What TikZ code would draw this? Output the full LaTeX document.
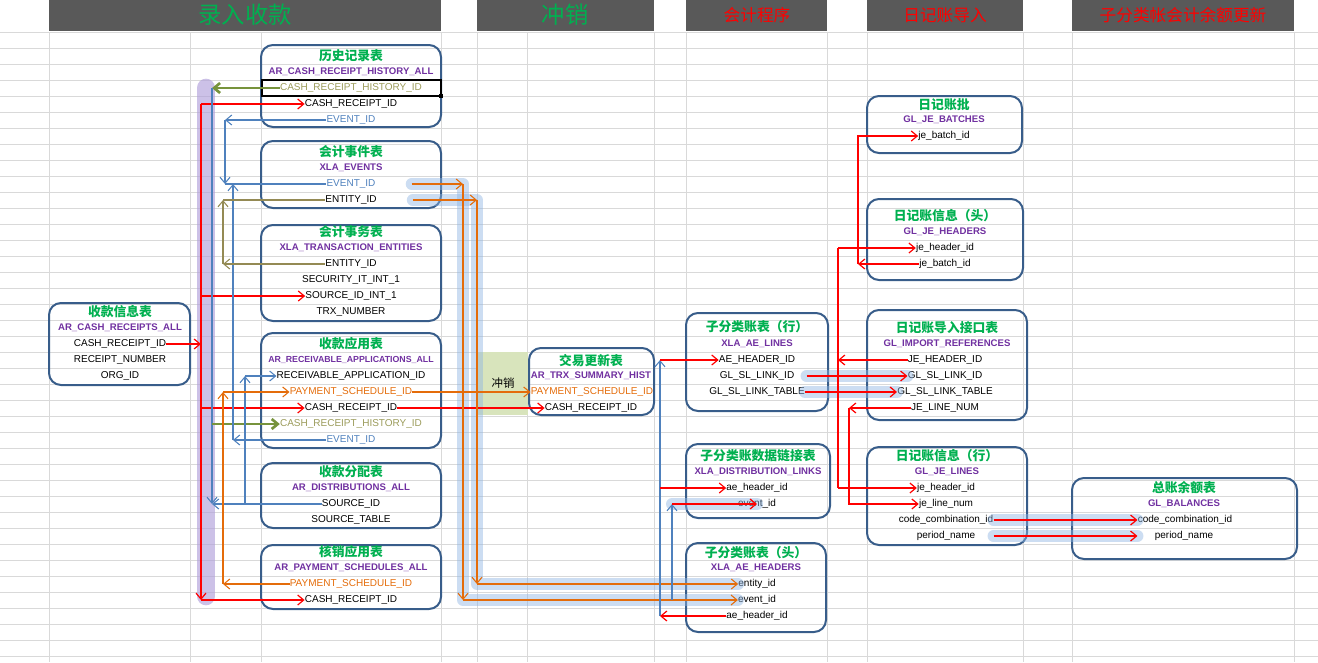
\documentclass[tikz,border=0pt]{standalone}
\usepackage{fontspec}
\setmainfont{Liberation Sans}
\newfontfamily\cjk{Noto Sans CJK SC}
\usetikzlibrary{arrows.meta}
\definecolor{gridc}{RGB}{217,217,217}
\definecolor{bandc}{RGB}{89,89,89}
\definecolor{ttlg}{RGB}{0,176,80}
\definecolor{nmp}{RGB}{112,48,160}
\definecolor{tblc}{RGB}{56,93,138}
\definecolor{olv}{RGB}{119,147,60}
\definecolor{khk}{RGB}{148,138,84}
\definecolor{oltxt}{RGB}{155,155,90}
\definecolor{blu}{RGB}{79,129,189}
\definecolor{org}{RGB}{228,108,10}
\definecolor{glowc}{RGB}{141,180,226}
\definecolor{glowp}{RGB}{177,160,218}
\definecolor{revc}{RGB}{216,228,188}
\tikzset{
  >={Straight Barb[length=4.5pt,width=7.5pt]},
  gridl/.style={gridc, line width=0.75pt},
  band/.style={fill=bandc},
  hgreen/.style={font=\cjk\fontsize{17.5}{18}\selectfont, text=ttlg},
  hred/.style={font=\cjk\fontsize{12.5}{13}\selectfont, text=red},
  tbl/.style={draw=tblc, line width=1.5pt, rounded corners=9pt},
  ttl/.style={font=\cjk\bfseries\fontsize{9.6}{11}\selectfont, text=ttlg, inner sep=0pt},
  tnm/.style={font=\bfseries\fontsize{7.2}{8}\selectfont, text=nmp, inner sep=0pt},
  fld/.style={font=\fontsize{7.5}{8}\selectfont, inner sep=0pt},
  rd/.style={red, line width=0.9pt},
  bl/.style={blu, line width=0.8pt},
  kh/.style={khk, line width=0.8pt},
  og/.style={org, line width=0.8pt},
  ov/.style={olv, line width=2pt},
  glow/.style={glowc, line width=9pt, opacity=0.45, line cap=round, line join=round},
  glowv/.style={glowp, line width=14pt, opacity=0.65, line cap=round},
}
\begin{document}
\begin{tikzpicture}[x=0.75pt,y=-0.75pt]
\useasboundingbox (0,0) rectangle (1318,662);
% sheet grid
\foreach \k in {0,...,39}{
\draw[gridl] (0,32+16*\k) -- (1318,32+16*\k);
}
\foreach \x in {49,190,261,441,477,527,654,686,827,867,1023,1072,1294}{
\draw[gridl] (\x,32) -- (\x,662);
}
% header bands
\fill[band] (49,0) rectangle (441,31);
\fill[band] (477,0) rectangle (654,31);
\fill[band] (686,0) rectangle (827,31);
\fill[band] (867,0) rectangle (1023,31);
\fill[band] (1072,0) rectangle (1294,31);
\node[hgreen] (h-in) at (245,15) {录入收款};
\node[hgreen] (h-rev) at (565,15) {冲销};
\node[hred] (h-acc) at (757,15) {会计程序};
\node[hred] (h-gl) at (945,15) {日记账导入};
\node[hred] (h-bal) at (1183,15) {子分类帐会计余额更新};
% reversal cell
\fill[revc] (478,352) rectangle (528,415);
\node[font=\cjk\fontsize{8.6}{9}\selectfont] (rev) at (503,383) {冲销};
%
% table boxes
\draw[tbl] (261,45) rectangle (441,127);
\draw[tbl] (261,141) rectangle (441,208);
\draw[tbl] (261,225) rectangle (441,321);
\draw[tbl] (49,303) rectangle (190,385);
\draw[tbl] (261,333) rectangle (441,448);
\draw[tbl] (261,463) rectangle (441,528);
\draw[tbl] (261,545) rectangle (441,609);
\draw[tbl] (529,348) rectangle (654,415);
\draw[tbl] (686,313) rectangle (828,411);
\draw[tbl] (686,444) rectangle (830,518);
\draw[tbl] (686,543) rectangle (826,632);
\draw[tbl] (867,96) rectangle (1022,153);
\draw[tbl] (867,199) rectangle (1023,280);
\draw[tbl] (867,310) rectangle (1027,420);
\draw[tbl] (867,447) rectangle (1027,545);
\draw[tbl] (1072,478) rectangle (1297,559);
% selected cell
\draw[black, line width=1.5pt] (262,80) rectangle (441,96);
\fill[black] (439,94) rectangle (443,98);
%
% history table
\node[ttl] (hist-t) at (351,56) {历史记录表};
\node[tnm] (hist-n) at (351,72) {AR\_CASH\_RECEIPT\_HISTORY\_ALL};
\node[fld, text=oltxt] (hist-crh) at (351,88) {CASH\_RECEIPT\_HISTORY\_ID};
\node[fld] (hist-crid) at (351,104) {CASH\_RECEIPT\_ID};
\node[fld, text=blu] (hist-ev) at (351,120) {EVENT\_ID};
% events table
\node[ttl] (evt-t) at (351,152) {会计事件表};
\node[tnm] (evt-n) at (351,168) {XLA\_EVENTS};
\node[fld, text=blu] (evt-ev) at (351,184) {EVENT\_ID};
\node[fld] (evt-ent) at (351,200) {ENTITY\_ID};
% transaction entities
\node[ttl] (xte-t) at (351,232) {会计事务表};
\node[tnm] (xte-n) at (351,248) {XLA\_TRANSACTION\_ENTITIES};
\node[fld] (xte-ent) at (351,264) {ENTITY\_ID};
\node[fld] (xte-sec) at (351,280) {SECURITY\_IT\_INT\_1};
\node[fld] (xte-sid) at (351,296) {SOURCE\_ID\_INT\_1};
\node[fld] (xte-trx) at (351,312) {TRX\_NUMBER};
% cash receipts
\node[ttl] (cr-t) at (120,312) {收款信息表};
\node[tnm] (cr-n) at (120,328) {AR\_CASH\_RECEIPTS\_ALL};
\node[fld] (cr-crid) at (120,344) {CASH\_RECEIPT\_ID};
\node[fld] (cr-rn) at (120,360) {RECEIPT\_NUMBER};
\node[fld] (cr-org) at (120,376) {ORG\_ID};
% receivable applications
\node[ttl] (ra-t) at (351,344) {收款应用表};
\node[tnm, font=\bfseries\fontsize{6.6}{8}\selectfont] (ra-n) at (351,360) {AR\_RECEIVABLE\_APPLICATIONS\_ALL};
\node[fld] (ra-raid) at (351,376) {RECEIVABLE\_APPLICATION\_ID};
\node[fld, text=org] (ra-psid) at (351,392) {PAYMENT\_SCHEDULE\_ID};
\node[fld] (ra-crid) at (351,408) {CASH\_RECEIPT\_ID};
\node[fld, text=oltxt] (ra-crh) at (351,424) {CASH\_RECEIPT\_HISTORY\_ID};
\node[fld, text=blu] (ra-ev) at (351,440) {EVENT\_ID};
% distributions
\node[ttl] (rd-t) at (351,472) {收款分配表};
\node[tnm] (rd-n) at (351,488) {AR\_DISTRIBUTIONS\_ALL};
\node[fld] (rd-sid) at (351,504) {SOURCE\_ID};
\node[fld] (rd-stab) at (351,520) {SOURCE\_TABLE};
% payment schedules
\node[ttl] (ps-t) at (351,552) {核销应用表};
\node[tnm] (ps-n) at (351,568) {AR\_PAYMENT\_SCHEDULES\_ALL};
\node[fld, text=org] (ps-psid) at (351,584) {PAYMENT\_SCHEDULE\_ID};
\node[fld] (ps-crid) at (351,600) {CASH\_RECEIPT\_ID};
% trx summary
\node[ttl] (trx-t) at (591,361) {交易更新表};
\node[tnm] (trx-n) at (591,376) {AR\_TRX\_SUMMARY\_HIST};
\node[fld, text=org] (trx-psid) at (592,392) {PAYMENT\_SCHEDULE\_ID};
\node[fld] (trx-crid) at (591,408) {CASH\_RECEIPT\_ID};
% ae lines
\node[ttl] (ael-t) at (757,327) {子分类账表（行）};
\node[tnm] (ael-n) at (757,344) {XLA\_AE\_LINES};
\node[fld] (ael-aeh) at (757,360) {AE\_HEADER\_ID};
\node[fld] (ael-gid) at (757,376) {GL\_SL\_LINK\_ID};
\node[fld] (ael-gtab) at (757,392) {GL\_SL\_LINK\_TABLE};
% distribution links
\node[ttl] (dl-t) at (758,456) {子分类账数据链接表};
\node[tnm] (dl-n) at (758,472) {XLA\_DISTRIBUTION\_LINKS};
\node[fld] (dl-aeh) at (757,488) {ae\_header\_id};
\node[fld] (dl-ev) at (757,504) {event\_id};
% ae headers
\node[ttl] (aeh-t) at (756,553) {子分类账表（头）};
\node[tnm] (aeh-n) at (756,568) {XLA\_AE\_HEADERS};
\node[fld] (aeh-ent) at (757,584) {entity\_id};
\node[fld] (aeh-ev) at (757,600) {event\_id};
\node[fld] (aeh-aeh) at (757,616) {ae\_header\_id};
% je batches
\node[ttl] (jb-t) at (944,105) {日记账批};
\node[tnm] (jb-n) at (944,120) {GL\_JE\_BATCHES};
\node[fld] (jb-jbid) at (944,136) {je\_batch\_id};
% je headers
\node[ttl] (jh-t) at (945,216) {日记账信息（头）};
\node[tnm] (jh-n) at (945,232) {GL\_JE\_HEADERS};
\node[fld] (jh-jhid) at (945,248) {je\_header\_id};
\node[fld] (jh-jbid) at (945,264) {je\_batch\_id};
% import references
\node[ttl] (ir-t) at (947,328) {日记账导入接口表};
\node[tnm] (ir-n) at (947,344) {GL\_IMPORT\_REFERENCES};
\node[fld] (ir-jhid) at (945,360) {JE\_HEADER\_ID};
\node[fld] (ir-gid) at (945,376) {GL\_SL\_LINK\_ID};
\node[fld] (ir-gtab) at (945,392) {GL\_SL\_LINK\_TABLE};
\node[fld] (ir-jln) at (945,408) {JE\_LINE\_NUM};
% je lines
\node[ttl] (jl-t) at (947,456) {日记账信息（行）};
\node[tnm] (jl-n) at (947,472) {GL\_JE\_LINES};
\node[fld] (jl-jhid) at (946,488) {je\_header\_id};
\node[fld] (jl-jln) at (946,504) {je\_line\_num};
\node[fld] (jl-ccid) at (946,520) {code\_combination\_id};
\node[fld] (jl-pn) at (946,536) {period\_name};
% balances
\node[ttl] (gb-t) at (1184,488) {总账余额表};
\node[tnm] (gb-n) at (1184,504) {GL\_BALANCES};
\node[fld] (gb-ccid) at (1185,520) {code\_combination\_id};
\node[fld] (gb-pn) at (1184,536) {period\_name};
%
% bus lines
\coordinate (busR) at (201,0);
\coordinate (busB) at (212,0);
\coordinate (busK) at (223,0);
\coordinate (busE) at (225,0);
\coordinate (busF) at (233,0);
\coordinate (busS) at (245,0);
\coordinate (busV1) at (463,0);
\coordinate (busV2) at (477,0);
\coordinate (busA) at (660,0);
\coordinate (busA2) at (672,0);
\coordinate (busJ) at (838,0);
\coordinate (busL) at (849,0);
\coordinate (busH) at (858,0);
%
% glows
\draw[glowv] (206,88) -- (206,596);
\draw[glow] ([xshift=27pt]evt-ev.east) -- (busV1 |- evt-ev) -- (busV1 |- aeh-ev) -- (aeh-ev.west);
\draw[glow] ([xshift=27pt]evt-ent.east) -- (busV2 |- evt-ent) -- (busV2 |- aeh-ent) -- (aeh-ent.west);
\draw[glow] (busA2 |- dl-ev) -- (dl-ev.center);
\draw[glow] ([xshift=9pt]ael-gid.east) -- (ir-gid.west);
\draw[glow] (ael-gtab.east) -- (ir-gtab.west);
\draw[glow] (jl-ccid.east) -- (gb-ccid.west);
\draw[glow] (jl-ccid.east |- jl-pn) -- (gb-ccid.west |- gb-pn);
%
% cash receipt id
\draw[rd,->] (cr-crid.east) -- (busR |- cr-crid);
\draw[rd,->] (busR |- hist-crid) -- (busR |- ps-crid);
\draw[rd,->] (busR |- hist-crid) -- (hist-crid.west);
\draw[rd,->] (busR |- xte-sid) -- (xte-sid.west);
\draw[rd,->] (busR |- ra-crid) -- (ra-crid.west);
\draw[rd,->] (busR |- ps-crid) -- (ps-crid.west);
\draw[rd,->] (ra-crid.east) -- (trx-crid.west);
% cash receipt history id
\draw[ov,->] (hist-crh.west) -- (busB |- hist-crh);
\draw[bl,->] (busB |- hist-crh) -- (busB |- rd-sid);
\draw[ov,->] (busB |- ra-crh) -- (ra-crh.west);
\draw[bl,->] (rd-sid.west) -- (busB |- rd-sid);
\draw[bl,->] (busS |- rd-sid) -- (busS |- ra-raid);
\draw[bl,->] (busS |- ra-raid) -- (ra-raid.west);
% event id
\draw[bl,->] (hist-ev.west) -- (busE |- hist-ev);
\draw[bl,->] (busE |- hist-ev) -- (busE |- evt-ev);
\draw[bl] (busE |- evt-ev) -- (evt-ev.west);
\draw[bl,->] (ra-ev.west) -- (busF |- ra-ev);
\draw[bl,->] (busF |- ra-ev) -- (busF |- evt-ev);
% entity id
\draw[kh,->] (xte-ent.west) -- (busK |- xte-ent);
\draw[kh,->] (busK |- xte-ent) -- (busK |- evt-ent);
\draw[kh] (busK |- evt-ent) -- (evt-ent.west);
% payment schedule id
\draw[og,->] (ps-psid.west) -- (busK |- ps-psid);
\draw[og,->] (busK |- ps-psid) -- (busK |- ra-psid);
\draw[og,->] (busK |- ra-psid) -- (ra-psid.west);
\draw[og,->] (ra-psid.east) -- (trx-psid.west);
% events to ae headers
\draw[og,->] ([xshift=27pt]evt-ev.east) -- (busV1 |- evt-ev);
\draw[og,->] ([xshift=27pt]evt-ent.east) -- (busV2 |- evt-ent);
\draw[og,->] (busV1 |- evt-ev) -- (busV1 |- aeh-ev);
\draw[og,->] (busV2 |- evt-ent) -- (busV2 |- aeh-ent);
\draw[og,->] (busV1 |- aeh-ev) -- (aeh-ev.west);
\draw[og,->] (busV2 |- aeh-ent) -- (aeh-ent.west);
% ae header id
\draw[bl,->] (busA |- aeh-aeh) -- (busA |- ael-aeh);
\draw[rd,->] (busA |- ael-aeh) -- (ael-aeh.west);
\draw[rd,->] (busA |- dl-aeh) -- (dl-aeh.west);
\draw[rd,->] (aeh-aeh.west) -- (busA |- aeh-aeh);
\draw[bl,->] (busA2 |- aeh-ev) -- (busA2 |- dl-ev);
\draw[rd,->] (busA2 |- dl-ev) -- (dl-ev.center);
% gl link
\draw[rd,->] ([xshift=9pt]ael-gid.east) -- (ir-gid.west);
\draw[rd,->] (ael-gtab.east) -- (ir-gtab.west);
% journal ids
\draw[rd,->] (ir-jhid.west) -- (busJ |- ir-jhid);
\draw[rd] (busJ |- jh-jhid) -- (busJ |- jl-jhid);
\draw[rd,->] (busJ |- jh-jhid) -- (jh-jhid.west);
\draw[rd,->] (busJ |- jl-jhid) -- (jl-jhid.west);
\draw[rd,->] (ir-jln.west) -- (busL |- ir-jln);
\draw[rd,->] (busL |- ir-jln) -- (busL |- jl-jln) -- (jl-jln.west);
\draw[rd,->] (jh-jbid.west) -- (busH |- jh-jbid);
\draw[rd,->] (busH |- jh-jbid) -- (busH |- jb-jbid) -- (jb-jbid.west);
% balances
\draw[rd,->] (jl-ccid.east) -- (gb-ccid.west);
\draw[rd,->] (jl-ccid.east |- jl-pn) -- (gb-ccid.west |- gb-pn);
\end{tikzpicture}
\end{document}
